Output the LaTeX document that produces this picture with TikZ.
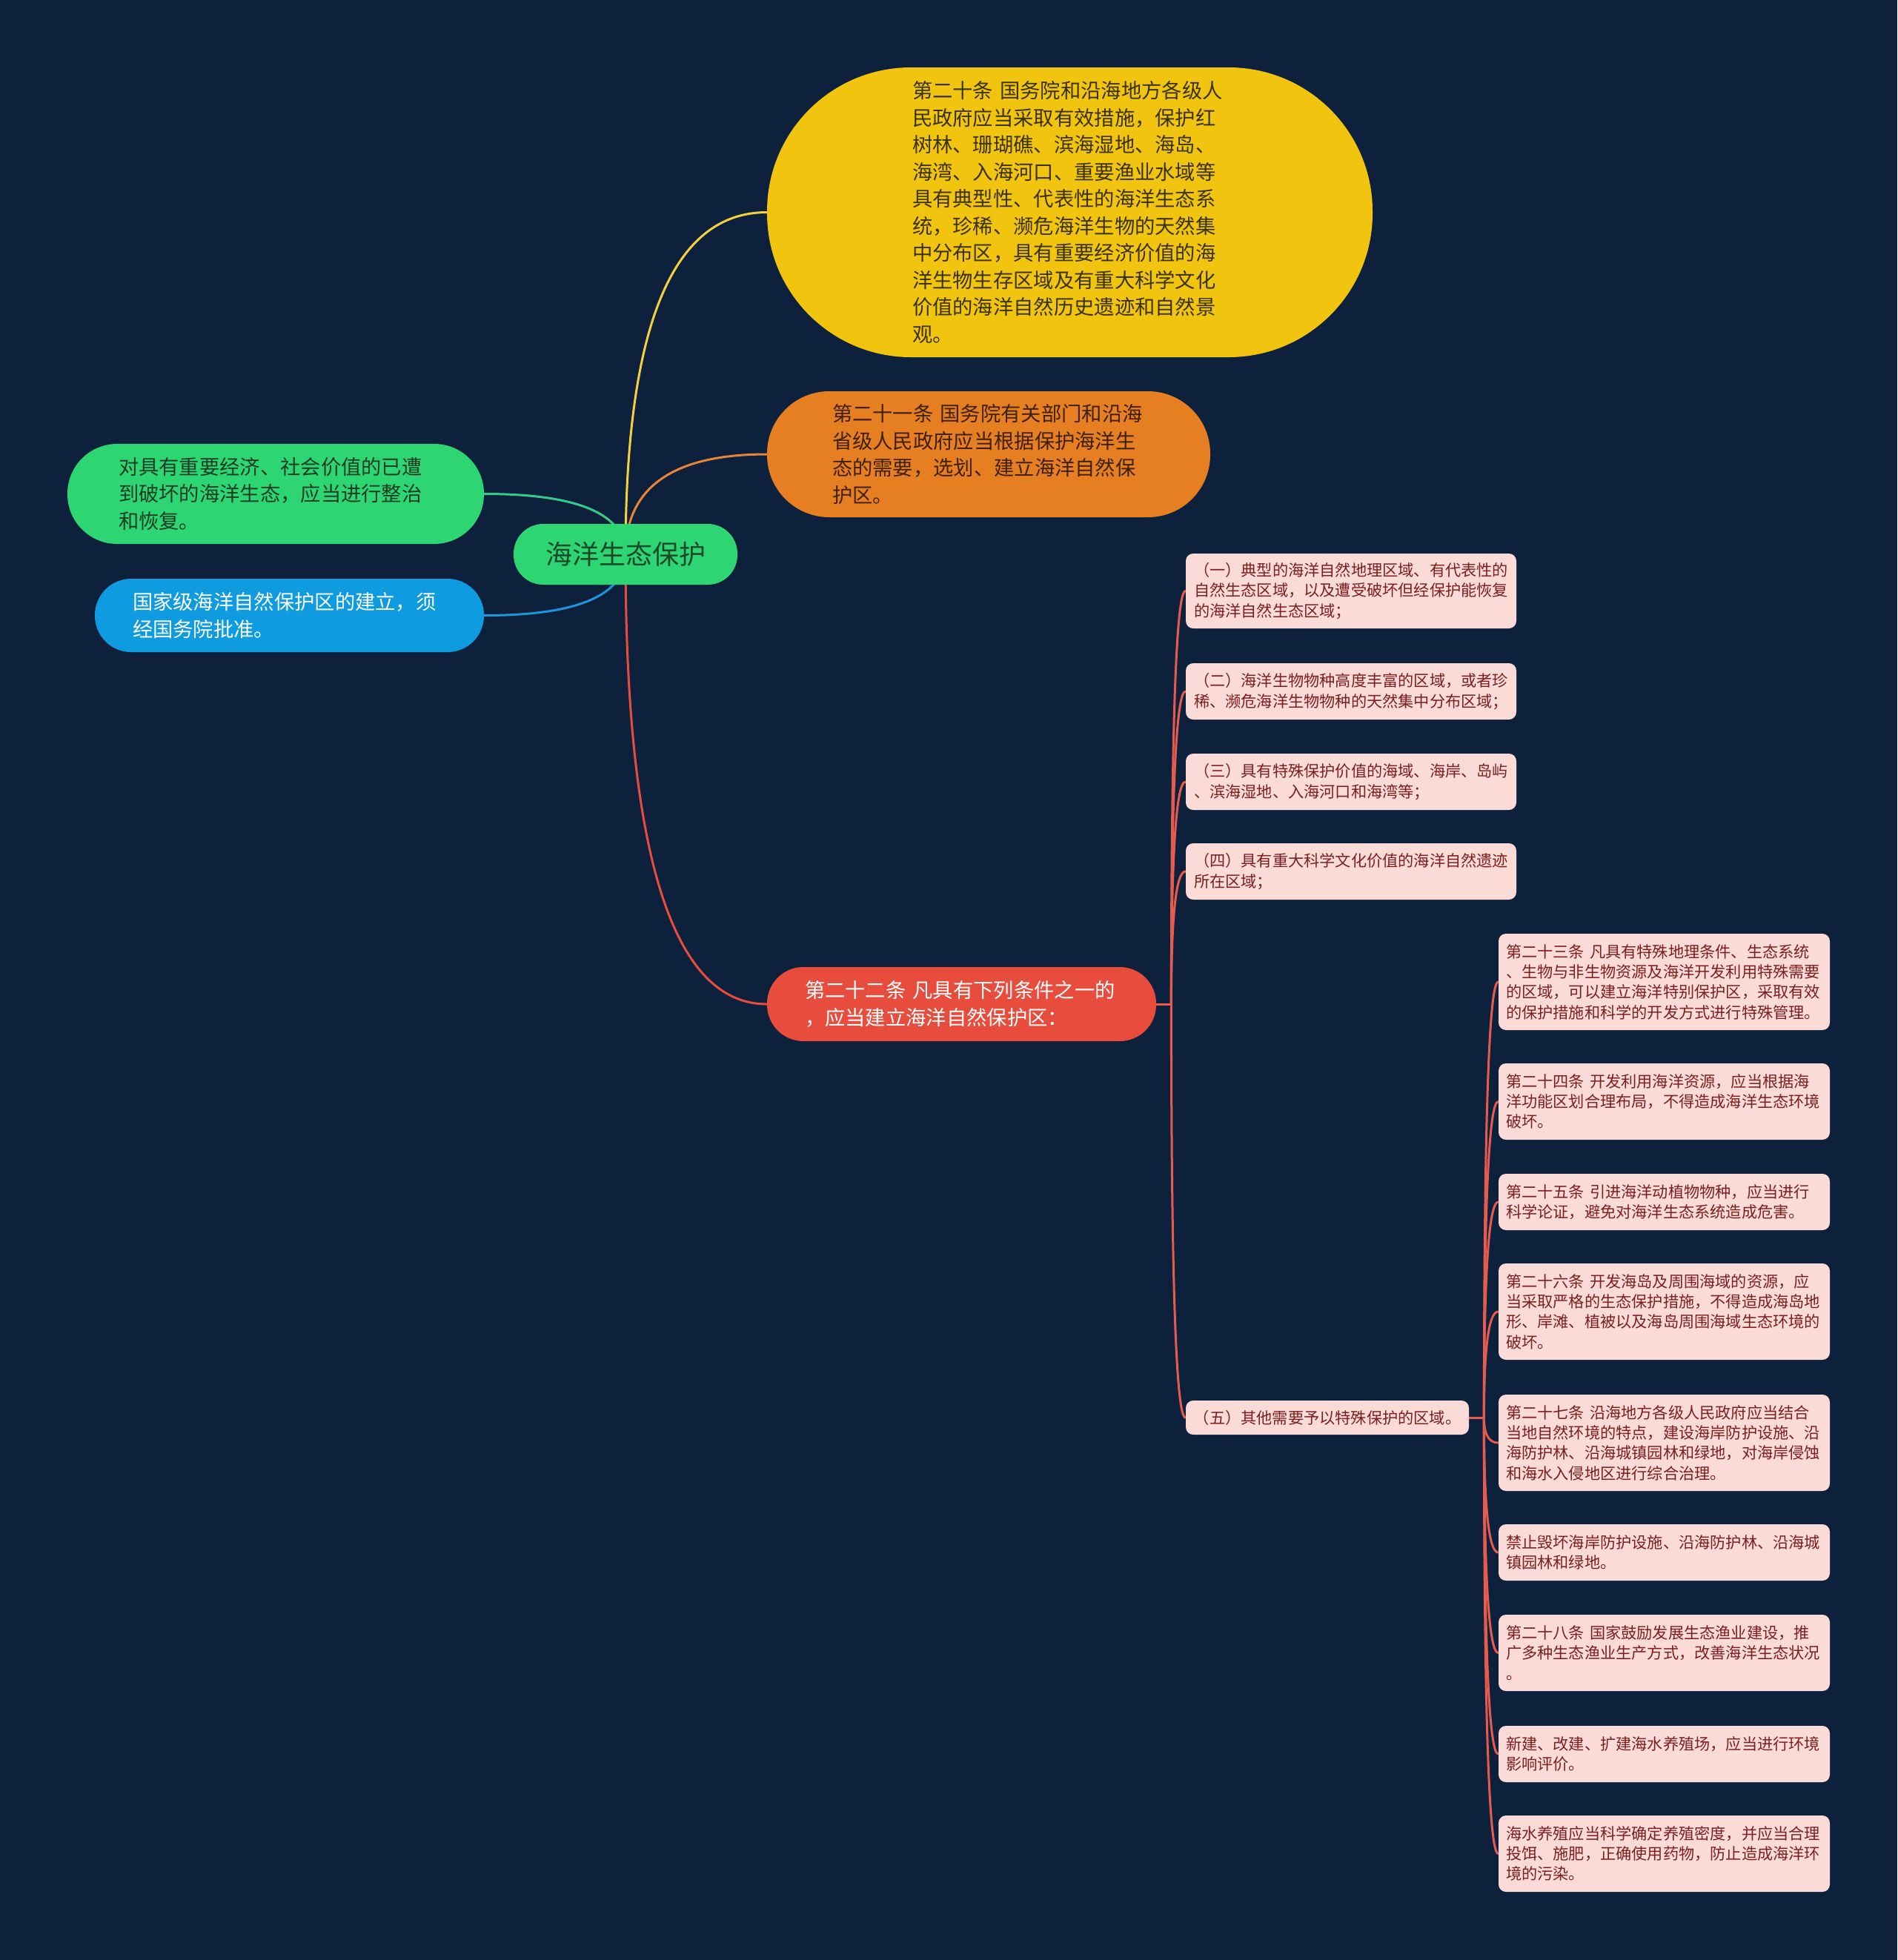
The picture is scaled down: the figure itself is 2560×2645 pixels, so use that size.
\documentclass[tikz,border=0pt]{standalone}
\usepackage{fontspec}
\setmainfont{Noto Sans CJK SC}
\usetikzlibrary{calc}
\definecolor{bgc}{HTML}{0D213D}
\definecolor{rootc}{HTML}{2ED573}
\definecolor{roottx}{HTML}{1A4A2A}
\definecolor{yelc}{HTML}{F1C40F}
\definecolor{yeltx}{HTML}{3A3200}
\definecolor{orac}{HTML}{E67E22}
\definecolor{oratx}{HTML}{3E2005}
\definecolor{grnc}{HTML}{2ED573}
\definecolor{grntx}{HTML}{1F3D24}
\definecolor{bluc}{HTML}{0E9BE0}
\definecolor{redc}{HTML}{E74C3C}
\definecolor{pinkc}{HTML}{FADBD8}
\definecolor{pinktx}{HTML}{7B1F1F}
\definecolor{lyel}{HTML}{F4D03F}
\definecolor{lora}{HTML}{E8843A}
\definecolor{lgrn}{HTML}{36C98A}
\definecolor{lblu}{HTML}{1E96D8}
\definecolor{lred}{HTML}{E55B4D}
\pgfdeclarelayer{bgl}
\pgfdeclarelayer{edges}
\pgfsetlayers{bgl,edges,main}
\tikzset{
  qcurve/.style={to path={.. controls ($(\tikztostart)!0.6667!(\tikztostart|-\tikztotarget)$) and ($(\tikztotarget)!0.6667!(\tikztostart|-\tikztotarget)$) .. (\tikztotarget)}},
  conn/.style={line width=1.5pt, line cap=round},
  bigtext/.style={font=\fontsize{13.65}{18.25}\selectfont, align=left, inner ysep=0pt},
  topic/.style n args={4}{bigtext, minimum width=#1, minimum height=#2, rounded corners=#3, inner xsep=#4, text width=#1-2*#4},
  leaf/.style={font=\fontsize{10.6}{13.65}\selectfont, align=left, inner ysep=0pt, inner xsep=5pt, fill=pinkc, text=pinktx, rounded corners=5pt},
  pbox/.style={leaf, inner xsep=5.5pt, text width=212pt, minimum height=#1},
  qbox/.style={leaf, inner xsep=5pt, text width=213.5pt, minimum height=#1}
}
\begin{document}
\begin{tikzpicture}[x=0.5pt,y=-0.5pt]
\useasboundingbox (0,0) rectangle (2560,2645);
\begin{pgfonlayer}{bgl}
\fill[bgc] (0,0) rectangle (2560,2645);
\end{pgfonlayer}

% root
\node[fill=rootc, text=roottx, font=\fontsize{18}{22}\selectfont, inner sep=0pt,
      minimum width=151pt, minimum height=41pt, rounded corners=20pt] (root) at (844,748) {海洋生态保护};

% level 1
\node[topic={408.5pt}{195.5pt}{97pt}{98pt}, fill=yelc, text=yeltx] (n20) at (1443.5,286.5)
 {第二十条 国务院和沿海地方各级人\\民政府应当采取有效措施，保护红\\树林、珊瑚礁、滨海湿地、海岛、\\海湾、入海河口、重要渔业水域等\\具有典型性、代表性的海洋生态系\\统，珍稀、濒危海洋生物的天然集\\中分布区，具有重要经济价值的海\\洋生物生存区域及有重大科学文化\\价值的海洋自然历史遗迹和自然景\\观。};
\node[topic={299pt}{85pt}{42pt}{44pt}, fill=orac, text=oratx] (n21) at (1334,613)
 {第二十一条 国务院有关部门和沿海\\省级人民政府应当根据保护海洋生\\态的需要，选划、建立海洋自然保\\护区。};
\node[topic={281pt}{67.5pt}{33.5pt}{34.5pt}, fill=grnc, text=grntx] (lg) at (372,666.5)
 {对具有重要经济、社会价值的已遭\\到破坏的海洋生态，应当进行整治\\和恢复。};
\node[topic={262.5pt}{49.5pt}{24.5pt}{25.5pt}, fill=bluc, text=white] (bl) at (390.5,830.5)
 {国家级海洋自然保护区的建立，须\\经国务院批准。};
\node[topic={262.5pt}{50pt}{24.5pt}{25.5pt}, fill=redc, text=white] (n22) at (1297.5,1355)
 {第二十二条 凡具有下列条件之一的\\，应当建立海洋自然保护区：};

% level 2
\node[pbox=50.5pt] (p1) at (1823,797.5)
 {（一）典型的海洋自然地理区域、有代表性的\\自然生态区域，以及遭受破坏但经保护能恢复\\的海洋自然生态区域；};
\node[pbox=38pt] (p2) at (1823,933)
 {（二）海洋生物物种高度丰富的区域，或者珍\\稀、濒危海洋生物物种的天然集中分布区域；};
\node[pbox=38pt] (p3) at (1823,1055)
 {（三）具有特殊保护价值的海域、海岸、岛屿\\、滨海湿地、入海河口和海湾等；};
\node[pbox=38pt] (p4) at (1823,1176)
 {（四）具有重大科学文化价值的海洋自然遗迹\\所在区域；};
\node[leaf, minimum width=191pt, minimum height=23pt] (p5) at (1791,1913)
 {（五）其他需要予以特殊保护的区域。};

% level 3
\node[qbox=65pt] (q1) at (2245.5,1325)
 {第二十三条 凡具有特殊地理条件、生态系统\\、生物与非生物资源及海洋开发利用特殊需要\\的区域，可以建立海洋特别保护区，采取有效\\的保护措施和科学的开发方式进行特殊管理。};
\node[qbox=51.5pt] (q2) at (2245.5,1486.5)
 {第二十四条 开发利用海洋资源，应当根据海\\洋功能区划合理布局，不得造成海洋生态环境\\破坏。};
\node[qbox=38pt] (q3) at (2245.5,1622)
 {第二十五条 引进海洋动植物物种，应当进行\\科学论证，避免对海洋生态系统造成危害。};
\node[qbox=65pt] (q4) at (2245.5,1770)
 {第二十六条 开发海岛及周围海域的资源，应\\当采取严格的生态保护措施，不得造成海岛地\\形、岸滩、植被以及海岛周围海域生态环境的\\破坏。};
\node[qbox=65pt] (q5) at (2245.5,1947)
 {第二十七条 沿海地方各级人民政府应当结合\\当地自然环境的特点，建设海岸防护设施、沿\\海防护林、沿海城镇园林和绿地，对海岸侵蚀\\和海水入侵地区进行综合治理。};
\node[qbox=38pt] (q6) at (2245.5,2095)
 {禁止毁坏海岸防护设施、沿海防护林、沿海城\\镇园林和绿地。};
\node[qbox=51.5pt] (q7) at (2245.5,2230.5)
 {第二十八条 国家鼓励发展生态渔业建设，推\\广多种生态渔业生产方式，改善海洋生态状况\\。};
\node[qbox=38pt] (q8) at (2245.5,2367)
 {新建、改建、扩建海水养殖场，应当进行环境\\影响评价。};
\node[qbox=51.5pt] (q9) at (2245.5,2501.5)
 {海水养殖应当科学确定养殖密度，并应当合理\\投饵、施肥，正确使用药物，防止造成海洋环\\境的污染。};

\coordinate (rj) at ($(n22.east)+(20,0)$);
\coordinate (pj) at ($(p5.east)+(20,0)$);

\begin{pgfonlayer}{edges}
\draw[conn, lyel] (root.center) to[qcurve] (n20.west);
\draw[conn, lora] (root.center) to[qcurve] (n21.west);
\draw[conn, lgrn] (root.center) to[qcurve] (lg.east);
\draw[conn, lblu] (root.center) to[qcurve] (bl.east);
\draw[conn, redc] (root.center) to[qcurve] (n22.west);

\draw[conn, lred] (n22.east) -- (rj);
\foreach \t in {p1,p2,p3,p4,p5}
  \draw[conn, lred] (rj) to[qcurve] (\t.west);
\draw[conn, lred] (p5.east) -- (pj);
\foreach \t in {q1,q2,q3,q4,q5,q6,q7,q8,q9}
  \draw[conn, lred] (pj) to[qcurve] (\t.west);
\end{pgfonlayer}
\end{tikzpicture}
\end{document}
